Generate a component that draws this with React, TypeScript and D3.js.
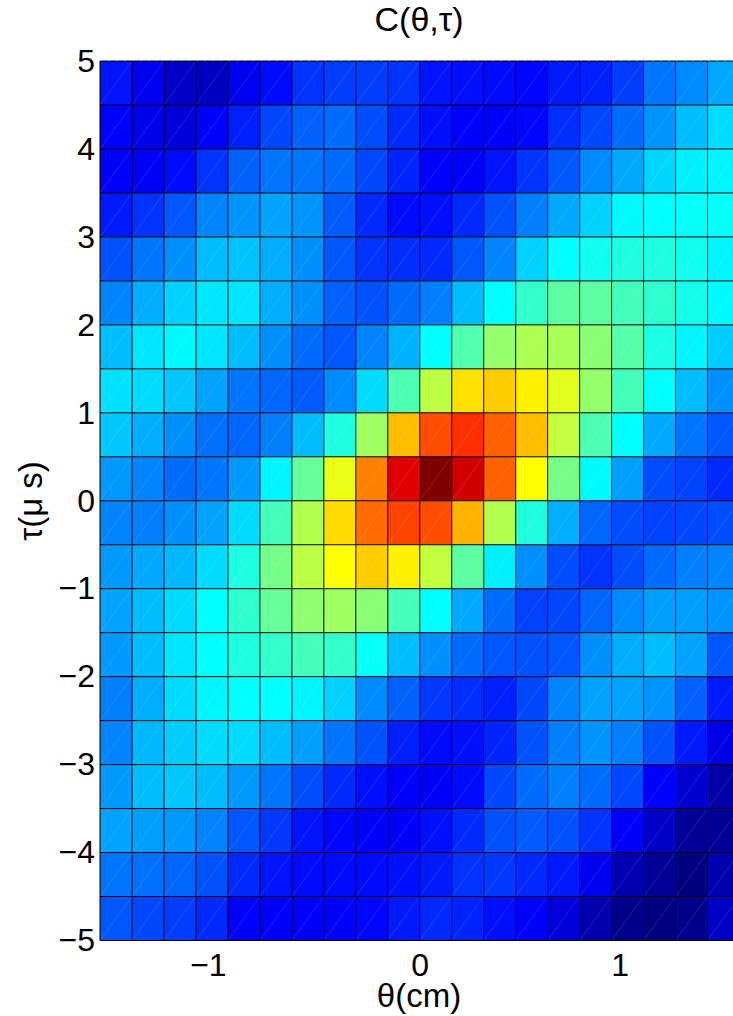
import * as d3 from "d3";
import { useEffect, useRef } from "react";

const xEdgeRange = [-1.6, 1.6];
const yEdgeRange = [-5, 5];
const xTickValues = [-1, 0, 1];
const yTickValues = [-5, -4, -3, -2, -1, 0, 1, 2, 3, 4, 5];

// Cell values on a 0-100 colour scale. Top row first (tau = 5 down to -5).
const row00 = [14.5, 11, 7, 6.5, 11, 13.5, 17.5, 18.5, 18.5, 17.5, 14.5, 14, 13.5, 13, 15, 15.5, 18.5, 24, 26, 29];
const row01 = [12.5, 10.5, 9, 12.5, 15.5, 19.5, 22, 23, 20, 16.5, 14, 12.5, 12, 13, 17, 19.5, 23, 27, 31, 34];
const row02 = [12, 11.5, 13.5, 17.5, 22, 24, 24, 23, 19.5, 16, 12.5, 12, 14.5, 17.5, 21, 26, 29, 33.5, 36, 36.5];
const row03 = [15, 17.5, 21, 25.5, 27, 28.5, 27, 21.5, 16.5, 13.5, 14, 16.5, 20.5, 25, 29, 33, 37, 37.5, 38, 38];
const row04 = [20.5, 24, 26.5, 31, 31.5, 29.5, 26.5, 21, 17.5, 17, 16.5, 21, 25.5, 33, 37.5, 39, 40.5, 40.5, 39, 36.5];
const row05 = [25.5, 29.5, 33, 35, 35, 29.5, 26.5, 22, 20.5, 23, 25, 31, 37.5, 42.5, 46.5, 46.5, 44, 42, 39.5, 37];
const row06 = [31, 35, 37, 35, 31, 26.5, 23, 21, 25.5, 30, 37.5, 45.5, 52, 54.5, 54, 51, 46, 40, 36.5, 32.5];
const row07 = [34.5, 34, 32, 28.5, 24, 22.5, 21.5, 26, 34, 45, 56, 65.5, 67.5, 64, 59.5, 52, 44, 37.5, 31, 26.5];
const row08 = [32, 29.5, 26.5, 23.5, 22.5, 25, 31, 40.5, 53, 69, 80, 83, 78, 69, 56.5, 45, 37.5, 29, 24, 21];
const row09 = [27.5, 25.5, 23, 24, 27.5, 36.5, 47.5, 60.5, 75, 90.5, 100, 92, 78, 62.5, 49, 37, 28, 20, 19, 16.5];
const row10 = [25.5, 25, 26.5, 28.5, 34, 44, 55, 66, 77, 81, 80, 70, 55, 40.5, 29.5, 22.5, 20, 19, 19.5, 20];
const row11 = [27.5, 29, 30.5, 34, 40.5, 49, 56, 62.5, 67.5, 64, 56.5, 46.5, 36, 26.5, 20, 17.5, 20, 23, 25, 25.5];
const row12 = [28.5, 31, 34, 37.5, 42, 47.5, 51.5, 53, 51, 44, 37.5, 29, 23, 19, 19.5, 22.5, 26, 28, 28, 27];
const row13 = [27.5, 31, 35, 37.5, 40.5, 42.5, 44, 42.5, 38, 31, 26.5, 23, 21, 20.5, 21, 26.5, 29.5, 31, 28.5, 21];
const row14 = [25, 29.5, 34, 36.5, 37.5, 37.5, 36.5, 33, 26, 22, 18, 17, 15.5, 19.5, 25.5, 28.5, 28.5, 27, 22, 15];
const row15 = [25.5, 30.5, 32.5, 34, 34, 31, 28, 24, 20.5, 15.5, 13.5, 14, 16, 20.5, 25, 27, 25, 20.5, 15, 10];
const row16 = [27.5, 31, 32, 31, 27.5, 24, 20, 16.5, 14, 12.5, 12, 13.5, 19.5, 23, 25, 23, 19.5, 12.5, 8, 3.5];
const row17 = [28.5, 28, 27.5, 25.5, 21, 18, 14.5, 13, 12, 12, 14, 16.5, 20.5, 21.5, 20.5, 17.5, 12, 7, 2.5, 2.5];
const row18 = [24, 23.5, 22.5, 20.5, 16.5, 14.5, 13.5, 13.5, 13.5, 14, 15, 17.5, 18, 16.5, 15, 11, 5, 2.5, 0, 4.5];
const row19 = [21, 19.5, 18.5, 16.5, 12.5, 12, 12, 12.5, 13, 15, 16.5, 16, 14, 12.5, 9, 4.5, 1, 0, 1, 7];

const rows = [
  row00, row01, row02, row03, row04, row05, row06, row07, row08, row09,
  row10, row11, row12, row13, row14, row15, row16, row17, row18, row19,
];

const jetStops = [0, 12.5, 37.5, 62.5, 87.5, 100];
const jetColors = ["#000080", "#0000ff", "#00ffff", "#ffff00", "#ff0000", "#800000"];

const width = 733;
const height = 1016;
const font = "'Liberation Sans', Arial, sans-serif";

export default function App() {
  const ref = useRef<SVGSVGElement | null>(null);

  useEffect(() => {
    const svg = d3.select(ref.current);
    svg.selectAll("*").remove();

    const x = d3.scaleLinear().domain(xEdgeRange).range([100, 739.5]);
    const y = d3.scaleLinear().domain(yEdgeRange).range([940.5, 61]);
    const color = d3.scaleLinear<string>().domain(jetStops).range(jetColors).interpolate(d3.interpolateRgb);

    const cols = rows[0].length;
    const dx = (xEdgeRange[1] - xEdgeRange[0]) / cols;
    const dy = (yEdgeRange[1] - yEdgeRange[0]) / rows.length;

    const cells = rows.flatMap((row, r) =>
      row.map((v, c) => ({
        v,
        x0: xEdgeRange[0] + c * dx,
        x1: xEdgeRange[0] + (c + 1) * dx,
        y1: yEdgeRange[1] - r * dy,
        y0: yEdgeRange[1] - (r + 1) * dy,
      }))
    );

    // Cells
    svg.append("g")
      .selectAll("rect")
      .data(cells)
      .join("rect")
      .attr("x", (d) => x(d.x0))
      .attr("y", (d) => y(d.y1))
      .attr("width", (d) => x(d.x1) - x(d.x0))
      .attr("height", (d) => y(d.y0) - y(d.y1))
      .attr("fill", (d) => color(d.v));

    // Faint diagonal seam in every cell
    svg.append("g")
      .selectAll("line")
      .data(cells)
      .join("line")
      .attr("x1", (d) => x(d.x0))
      .attr("y1", (d) => y(d.y0))
      .attr("x2", (d) => x(d.x1))
      .attr("y2", (d) => y(d.y1))
      .attr("stroke", "#fff")
      .attr("stroke-opacity", 0.22)
      .attr("stroke-width", 0.6);

    // Black mesh
    const xEdges = d3.range(cols + 1).map((i) => xEdgeRange[0] + i * dx);
    const yEdges = d3.range(rows.length + 1).map((i) => yEdgeRange[0] + i * dy);

    svg.append("g")
      .selectAll("line")
      .data(xEdges)
      .join("line")
      .attr("x1", (d) => x(d))
      .attr("x2", (d) => x(d))
      .attr("y1", y(yEdgeRange[0]))
      .attr("y2", y(yEdgeRange[1]))
      .attr("stroke", "#000")
      .attr("stroke-width", 1);

    svg.append("g")
      .selectAll("line")
      .data(yEdges)
      .join("line")
      .attr("x1", x(xEdgeRange[0]))
      .attr("x2", x(xEdgeRange[1]))
      .attr("y1", (d) => y(d))
      .attr("y2", (d) => y(d))
      .attr("stroke", "#000")
      .attr("stroke-width", 1);

    // Dotted grey edge along the top of the plot
    svg.append("line")
      .attr("x1", x(xEdgeRange[0]))
      .attr("x2", x(xEdgeRange[1]))
      .attr("y1", y(yEdgeRange[1]) - 0.5)
      .attr("y2", y(yEdgeRange[1]) - 0.5)
      .attr("stroke", "#aaa")
      .attr("stroke-width", 1)
      .attr("stroke-dasharray", "2 6");

    // Axes
    const xAxis = d3.axisBottom(x).tickValues(xTickValues).tickSize(0).tickPadding(13).tickFormat(d3.format("d") as any);
    const yAxis = d3.axisLeft(y).tickValues(yTickValues).tickSize(0).tickPadding(5).tickFormat(d3.format("d") as any);

    const gx = svg.append("g").attr("transform", `translate(0, ${y(yEdgeRange[0])})`).call(xAxis);
    const gy = svg.append("g").attr("transform", `translate(${x(xEdgeRange[0])}, 0)`).call(yAxis);

    for (const g of [gx, gy]) {
      g.select(".domain").remove();
      g.selectAll("text")
        .attr("fill", "#000")
        .style("font-family", font)
        .style("font-size", "32px");
    }

    // negative x tick sits left of its position in the original
    gx.selectAll<SVGTextElement, number>("text").attr("dx", (d) => (d < 0 ? -12 : 0));

    // Labels
    svg.append("text")
      .attr("x", 419)
      .attr("y", 31)
      .attr("text-anchor", "middle")
      .style("font-family", font)
      .style("font-size", "34px")
      .text("C(θ,τ)");

    svg.append("text")
      .attr("x", 419)
      .attr("y", 1007)
      .attr("text-anchor", "middle")
      .style("font-family", font)
      .style("font-size", "33px")
      .text("θ(cm)");

    svg.append("text")
      .attr("transform", "translate(42, 501) rotate(-90)")
      .attr("text-anchor", "middle")
      .style("font-family", font)
      .style("font-size", "33px")
      .text("τ(μ s)");
  }, []);

  return (
    <svg
      ref={ref}
      width={width}
      height={height}
      style={{ position: "absolute", left: 0, top: 0, background: "#fff" }}
    ></svg>
  );
}
